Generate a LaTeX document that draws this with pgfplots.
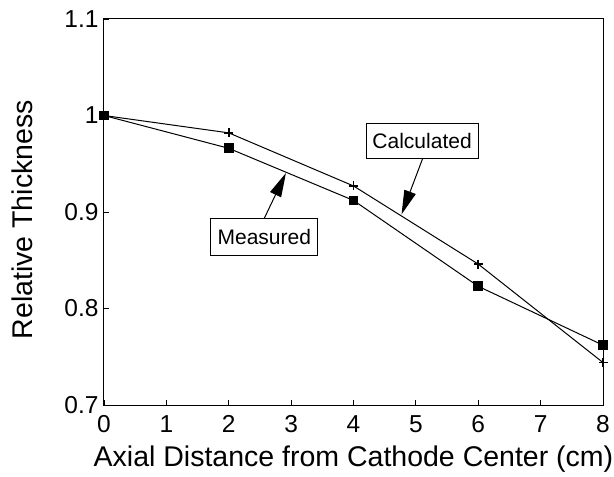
\documentclass[border=0pt]{standalone}
\usepackage{fontspec}
\setmainfont{Liberation Sans}
\usepackage{pgfplots}
\pgfplotsset{compat=1.18}
\usetikzlibrary{arrows.meta}

\begin{document}
\begin{tikzpicture}
\useasboundingbox (-104pt,-72pt) rectangle (510pt,405pt);
\begin{axis}[
  scale only axis,
  width=499pt, height=386pt,
  xmin=0, xmax=8, ymin=0.7, ymax=1.1,
  xtick={0,1,...,8},
  ytick={0.7,0.8,0.9,1,1.1},
  tick align=inside,
  xtick pos=left, ytick pos=left,
  major tick length=5pt,
  axis line style={line width=1pt},
  tick style={line width=0.8pt, black},
  /pgf/number format/assume math mode=true,
  ticklabel style={font=\fontsize{24.5}{28}\selectfont},
  xticklabel style={anchor=base, yshift=-27pt},
  yticklabel style={xshift=-2pt},
  xlabel={Axial Distance from Cathode Center (cm)},
  ylabel={Relative Thickness},
  label style={font=\fontsize{28.5}{32}\selectfont},
  xlabel style={at={(axis description cs:0.5,0)}, anchor=base, yshift=-61pt},
  ylabel style={at={([xshift=-71pt]axis description cs:0,0.48)}, anchor=base, rotate=0},
]
% measured
\addplot[black, line width=1pt, mark=square*, mark size=4.4pt,
  mark options={solid, fill=black}]
  coordinates {(0,1.000) (2,0.966) (4,0.912) (6,0.823) (8,0.762)};
% calculated
\addplot[black, line width=1pt, mark=+, mark size=4.5pt,
  mark options={line width=1.8pt}]
  coordinates {(0,1.000) (2,0.982) (4,0.927) (6,0.846) (8,0.744)};

\draw[line width=1pt, -{Triangle[length=24pt,width=12pt]}]
  (axis cs:2.564,0.8927) -- (axis cs:2.917,0.9404);
\node[draw, line width=1pt, fill=white, inner sep=0pt,
  minimum width=107pt, minimum height=37pt,
  font=\fontsize{21}{25}\selectfont]
  at (axis cs:2.57,0.8736) {Measured};

\draw[line width=1pt, -{Triangle[length=24pt,width=12pt]}]
  (axis cs:5.112,0.956) -- (axis cs:4.771,0.8976);
\node[draw, line width=1pt, fill=white, inner sep=0pt,
  minimum width=112pt, minimum height=35pt,
  font=\fontsize{21}{25}\selectfont]
  at (axis cs:5.10,0.974) {Calculated};
\end{axis}
\end{tikzpicture}
\end{document}
